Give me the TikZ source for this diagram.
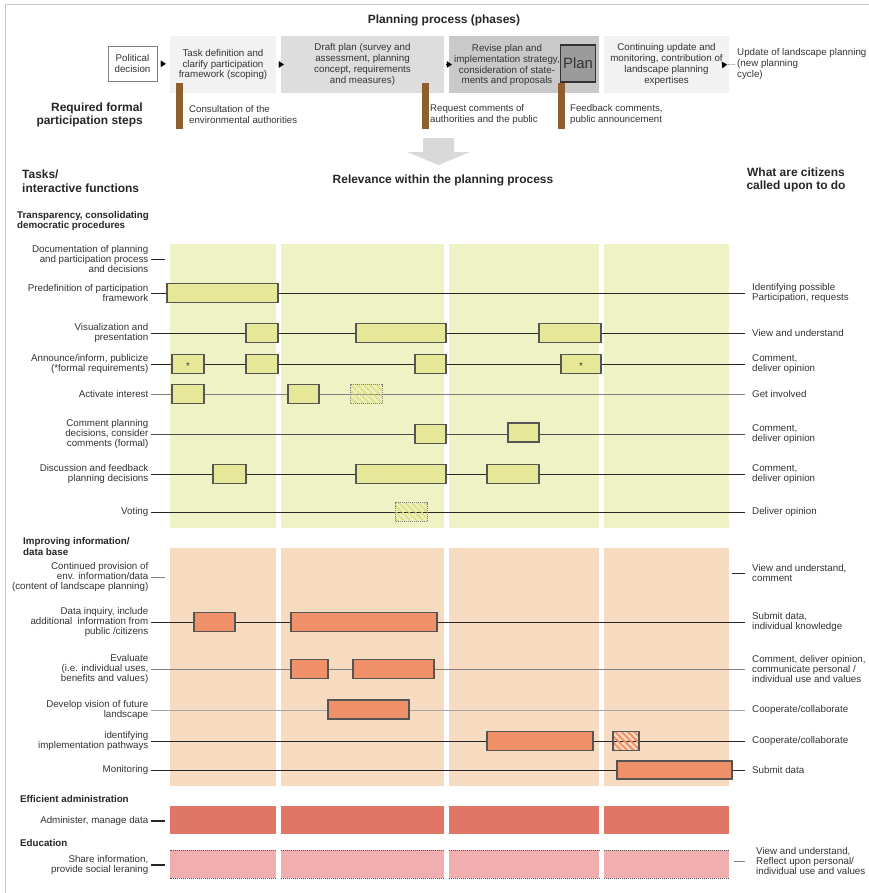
\documentclass[tikz,border=0pt]{standalone}
\usepackage{fontspec}
\setmainfont{Liberation Sans}
\usetikzlibrary{arrows.meta,patterns.meta}

\definecolor{txt}{HTML}{333333}
\definecolor{frame}{HTML}{C8C8C8}
\definecolor{phlight}{HTML}{F2F2F2}
\definecolor{phmid}{HTML}{DDDDDD}
\definecolor{phdark}{HTML}{C9C9C9}
\definecolor{plangray}{HTML}{9B9B9B}
\definecolor{stepbrown}{HTML}{8E5E2E}
\definecolor{arrowgray}{HTML}{D9D9D9}
\definecolor{ylbg}{HTML}{EEF2C4}
\definecolor{ylbox}{HTML}{E6E897}
\definecolor{ylhatch}{HTML}{D6DA6A}
\definecolor{orbg}{HTML}{F7DBC1}
\definecolor{orbox}{HTML}{F0916A}
\definecolor{adminred}{HTML}{E07665}
\definecolor{edupink}{HTML}{F0AFAE}
\definecolor{boxln}{HTML}{555555}

\tikzset{
  small/.style={font=\fontsize{9.8}{10.5}\selectfont, text=txt},
  head/.style={font=\bfseries\fontsize{12}{13.5}\selectfont, text=black!85},
  sect/.style={font=\bfseries\fontsize{9.8}{10.5}\selectfont, text=black!85, align=left, anchor=west, inner sep=0},
  task/.style={small, align=right, anchor=east, inner ysep=0, inner xsep=2.5bp},
  todo/.style={small, align=left, anchor=west, inner ysep=0, inner xsep=7bp},
  phase/.style={small, font=\fontsize{9.8}{11}\selectfont, align=center, minimum height=57bp, inner sep=0},
  steptext/.style={small, font=\fontsize{9.7}{11}\selectfont, align=left, anchor=west, inner sep=0},
  row/.style={draw=black!85, line width=0.8bp},
  ybox/.style={draw=boxln, fill=ylbox, line width=1.1bp},
  obox/.style={draw=boxln, fill=orbox, line width=1.1bp},
  yhatch/.style={draw=gray, densely dotted, line width=1bp, fill=white,
    pattern={Lines[angle=-45,distance=4.5bp,line width=2.2bp]}, pattern color=ylhatch},
  ohatch/.style={draw=boxln, line width=1.1bp, fill=white,
    pattern={Lines[angle=-45,distance=4.5bp,line width=2bp]}, pattern color=orbox},
  tri/.style={-{Triangle[length=5bp,width=6.5bp]}, line width=0.1bp},
}

\begin{document}
\begin{tikzpicture}[x=1bp,y=-1bp]
  \useasboundingbox (0,0) rectangle (869,893);
  \draw[frame] (5,893) -- (5,4.5) -- (869,4.5);

  % phases of the planning process
  \node[head] (title) at (444,20) {Planning process (phases)};
  \node[phase, draw=gray, fill=white, minimum width=49bp, minimum height=35bp] (political) at (132.5,63.5) {Political\\decision};
  \node[phase, fill=phlight, minimum width=106bp] (task) at (223,64.5) {Task definition and\\clarify participation\\framework (scoping)};
  \node[phase, fill=phmid, minimum width=163bp] (draft) at (362.5,64.5) {Draft plan (survey and\\assessment, planning\\concept, requirements\\and measures)};
  \node[phase, fill=phdark, minimum width=150bp] (revise) at (524,64.5) {};
  \node[phase, minimum height=0pt] (revtext) at (507,65) {Revise plan and\\implementation strategy,\\consideration of state-\\ments and proposals};
  \node[draw=black!80, line width=1.5bp, fill=plangray, minimum width=35bp, minimum height=37bp, inner sep=0, font=\fontsize{15}{15}\selectfont, text=txt] (plan) at (578,63.5) {Plan};
  \node[phase, fill=phlight, minimum width=125bp] (cont) at (666.5,64.5) {Continuing update and\\monitoring, contribution of\\landscape planning\\expertises};
  \node[phase, align=left, anchor=west, minimum height=0pt] (update) at (737,64) {Update of landscape planning\\(new planning\\cycle)};
  \draw[tri, shorten <=3bp, shorten >=4bp] (political) -- (task);
  \draw[tri, shorten <=3bp, shorten >=-3bp] (task) -- (draft);
  \draw[tri, shorten <=2bp, shorten >=-3bp] (draft) -- (revise);
  \draw[tri, shorten <=-7bp, shorten >=10bp] (cont.east) -- (update.west);

  % formal participation steps
  \node[head, align=right, anchor=east, inner sep=0] (req) at (143,115) {Required formal\\participation steps};
  \fill[stepbrown] (176,83) rectangle (183,129);
  \fill[stepbrown] (422,83) rectangle (429,129);
  \fill[stepbrown] (558,83) rectangle (565,129);
  \node[steptext] (consult) at (189,114.5) {Consultation of the\\environmental authorities};
  \node[steptext] (request) at (430,114.5) {Request comments of\\authorities and the public};
  \node[steptext] (feedback) at (570,114.5) {Feedback comments,\\public announcement};

  % big arrow down
  \fill[arrowgray] (423,138) -- (454,138) -- (454,152) -- (470,152) -- (438.5,165) -- (407,152) -- (423,152) -- cycle;

  \node[head, align=left, anchor=west, inner sep=0] (tasks) at (22,181) {Tasks/\\interactive functions};
  \node[head] (relev) at (443,180) {Relevance within the planning process};
  \node[head, align=center] (citizens) at (796,180) {What are citizens\\called upon to do};

  % phase columns
  \foreach \a/\b in {169.5/276, 281/443.5, 449/599, 604/729} {
    \fill[ylbg] (\a,244) rectangle (\b,528);
    \fill[orbg] (\a,548) rectangle (\b,786);
    \fill[adminred] (\a,806) rectangle (\b,834);
    \fill[edupink] (\a,850) rectangle (\b,878);
    \draw[boxln, densely dotted, line width=1bp] (\a,850) -- (\b,850);
    \draw[boxln, densely dotted, line width=1bp] (\a,878) -- (\b,878);
  }

  % transparency
  \node[sect] (sTrans) at (17,221) {Transparency, consolidating\\democratic procedures};
  \node[task] (tDoc) at (151,259) {Documentation of planning\\and participation process\\and decisions};
  \node[task] (tPre) at (151,293) {Predefinition of participation\\framework};
  \node[task] (tVis) at (151,333) {Visualization and\\presentation};
  \node[task] (tAnn) at (151,364) {Announce/inform, publicize\\(*formal requirements)};
  \node[task] (tAct) at (151,394) {Activate interest};
  \node[task] (tCom) at (151,434) {Comment planning\\decisions, consider\\comments (formal)};
  \node[task] (tDis) at (151,474) {Discussion and feedback\\planning decisions};
  \node[task] (tVot) at (151,512) {Voting};

  \node[todo] (cPre) at (745,293) {Identifying possible\\Participation, requests};
  \node[todo] (cVis) at (745,333) {View and understand};
  \node[todo] (cAnn) at (745,364) {Comment,\\deliver opinion};
  \node[todo] (cAct) at (745,394) {Get involved};
  \node[todo] (cCom) at (745,434) {Comment,\\deliver opinion};
  \node[todo] (cDis) at (745,474) {Comment,\\deliver opinion};
  \node[todo] (cVot) at (745,512) {Deliver opinion};

  \draw[row] (tDoc.east) -- ++(14,0);
  \draw[row] (tPre) -- (cPre);
  \draw[row] (tVis) -- (cVis);
  \draw[row] (tAnn) -- (cAnn);
  \draw[row, draw=gray] (tAct) -- (cAct);
  \draw[row, draw=black!70] (tCom) -- (cCom);
  \draw[row] (tDis) -- (cDis);
  \draw[row] (tVot) -- (cVot);

  \draw[ybox] (167,283.5) rectangle (278,302.5);
  \draw[ybox] (246,323.5) rectangle (278,342.5);
  \draw[ybox] (356,323.5) rectangle (446,342.5);
  \draw[ybox] (539,323.5) rectangle (601,342.5);
  \draw[ybox] (172,354.5) rectangle (204,373.5) node[midway, yshift=-2bp, small] {*};
  \draw[ybox] (246,354.5) rectangle (278,373.5);
  \draw[ybox] (415,354.5) rectangle (446,373.5);
  \draw[ybox] (561,354.5) rectangle (601,373.5) node[midway, yshift=-2bp, small] {*};
  \draw[ybox] (172,384.5) rectangle (204,403.5);
  \draw[ybox] (288,384.5) rectangle (319,403.5);
  \draw[yhatch] (350,384.5) rectangle (382,403.5);
  \draw[ybox] (415,424.5) rectangle (446,443.5);
  \draw[ybox] (508,423) rectangle (539,442);
  \draw[ybox] (213,464.5) rectangle (246,483.5);
  \draw[ybox] (356,464.5) rectangle (446,483.5);
  \draw[ybox] (487,464.5) rectangle (539,483.5);
  \draw[yhatch] (395,502.5) rectangle (427,521.5);

  % information / data base
  \node[sect] (sInfo) at (23,546.5) {Improving information/\\data base};
  \node[task] (tProv) at (151,577) {Continued provision of\\env. information/data\\(content of landscape planning)};
  \node[task] (tInq) at (151,622) {Data inquiry, include\\additional\ \ information from\\public /citizens};
  \node[task] (tEva) at (151,669) {Evaluate\\(i.e. individual uses,\\benefits and values)};
  \node[task] (tVisn) at (151,710) {Develop vision of future\\landscape};
  \node[task] (tPath) at (151,741) {identifying\\implementation pathways};
  \node[task] (tMon) at (151,770) {Monitoring};

  \node[todo] (cProv) at (745,573) {View and understand,\\comment};
  \node[todo] (cInq) at (745,622) {Submit data,\\individual knowledge};
  \node[todo] (cEva) at (745,669) {Comment, deliver opinion,\\communicate personal /\\individual use and values};
  \node[todo] (cVisn) at (745,710) {Cooperate/collaborate};
  \node[todo] (cPath) at (745,741) {Cooperate/collaborate};
  \node[todo] (cMon) at (745,770) {Submit data};

  \draw[row, draw=gray] (tProv.east) -- ++(14,0);
  \draw[row] (cProv.west) -- ++(-13,0);
  \draw[row] (tInq) -- (cInq);
  \draw[row, draw=gray] (tEva) -- (cEva);
  \draw[row, draw=black!35] (tVisn) -- (cVisn);
  \draw[row] (tPath) -- (cPath);
  \draw[row] (tMon) -- (cMon);

  \draw[obox] (194,612.5) rectangle (235,631.5);
  \draw[obox] (291,612.5) rectangle (437,631.5);
  \draw[obox] (291,659.5) rectangle (328,678.5);
  \draw[obox] (353,659.5) rectangle (434,678.5);
  \draw[obox] (328,700) rectangle (409,719);
  \draw[obox] (487,731.5) rectangle (593,750.5);
  \draw[ohatch] (613,731.5) rectangle (639,750.5);
  \draw[obox] (617,761) rectangle (732,779);

  % administration and education
  \node[sect] (sAdmin) at (20,799) {Efficient administration};
  \node[task] (tAdm) at (151,821) {Administer, manage data};
  \draw[row, line width=1.4bp] (tAdm.east) -- ++(14,0);

  \node[sect] (sEdu) at (20,843) {Education};
  \node[task] (tEdu) at (151,865) {Share information,\\provide social leraning};
  \node[todo, inner xsep=11bp] (cEdu) at (745,861) {View and understand,\\Reflect upon personal/\\individual use and values};
  \draw[row, line width=1.4bp] (tEdu.east) -- ++(14,0);
  \draw[row, draw=gray] (cEdu.west) -- ++(-11,0);
\end{tikzpicture}
\end{document}
